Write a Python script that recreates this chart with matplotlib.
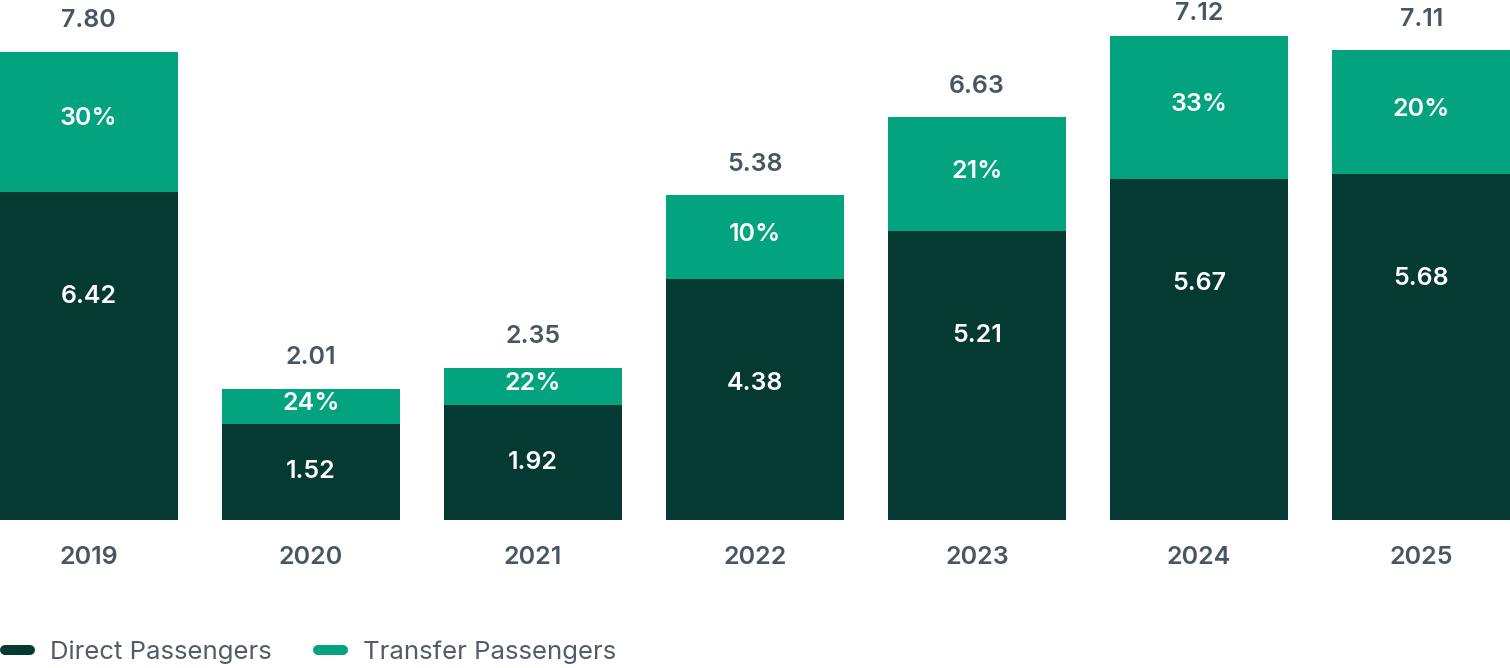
import numpy as np
import matplotlib.pyplot as plt
from matplotlib.lines import Line2D

# data (bar heights in drawing units, labels as printed)
years = ['2019', '2020', '2021', '2022', '2023', '2024', '2025']
direct = [5.47, 1.60, 1.92, 4.02, 4.82, 5.69, 5.77]
transfer = [2.33, 0.58, 0.62, 1.39, 1.89, 2.37, 2.06]
direct_labels = ['6.42', '1.52', '1.92', '4.38', '5.21', '5.67', '5.68']
transfer_labels = ['30%', '24%', '22%', '10%', '21%', '33%', '20%']
total_labels = ['7.80', '2.01', '2.35', '5.38', '6.63', '7.12', '7.11']

dark = '#053a33'
green = '#03a37f'
grey = '#4a5563'

plt.rcParams['font.family'] = ['Inter', 'DejaVu Sans']
fs = 18

fig = plt.figure(figsize=(15.1, 6.68), dpi=100)
ax = fig.add_axes([0, 148 / 668, 1, 520 / 668])

x = np.arange(len(years))
direct = np.array(direct)
transfer = np.array(transfer)
total = direct + transfer

ax.bar(x, direct, width=0.8, color=dark)
ax.bar(x, transfer, width=0.8, bottom=direct, color=green)

ymax = 520 / 60
ax.set_xlim(-0.4, 6.4)
ax.set_ylim(0, ymax)

# labels inside and above the bars
for i in x:
    yd = direct[i] - min(direct[i] / 2, 1.75)
    ax.text(i, yd, direct_labels[i], ha='center', va='center',
            color='white', fontsize=fs, fontweight='semibold')
    ax.text(i, direct[i] + transfer[i] / 2 + 0.05, transfer_labels[i],
            ha='center', va='center', color='white', fontsize=fs,
            fontweight='semibold')
    yt = min(total[i] + 0.52, ymax - 0.22)
    ax.text(i, yt, total_labels[i], ha='center', va='center',
            color=grey, fontsize=fs, fontweight='semibold')

ax.set_xticks(x)
ax.set_xticklabels(years, fontsize=fs, color=grey, fontweight='semibold')
ax.tick_params(axis='x', length=0, pad=19)
ax.set_yticks([])
for s in ax.spines.values():
    s.set_visible(False)

# legend with rounded swatches
handles = [Line2D([], [], color=dark, lw=7.2, solid_capstyle='round'),
           Line2D([], [], color=green, lw=7.2, solid_capstyle='round')]
fig.legend(handles, ['Direct Passengers', 'Transfer Passengers'],
           loc='center left', bbox_to_anchor=(5 / 1510, 16 / 668), ncol=2,
           frameon=False, fontsize=18.5, labelcolor='#525c68',
           handlelength=0.97, handletextpad=0.78, columnspacing=1.79,
           borderpad=0, borderaxespad=0)

fig.savefig('out.png', dpi=100)
